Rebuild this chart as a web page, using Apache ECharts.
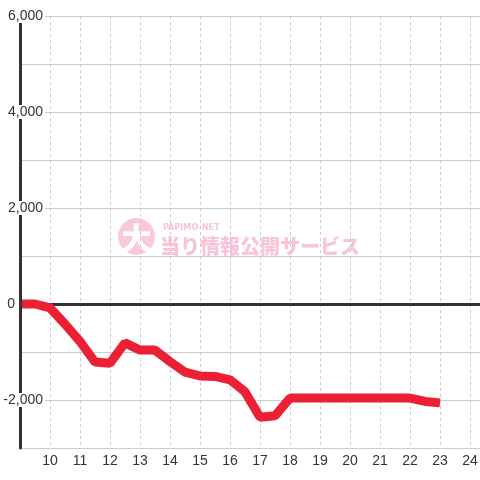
<!DOCTYPE html>
<html>
<head>
<meta charset="utf-8">
<script src="https://cdn.jsdelivr.net/npm/echarts@6/dist/echarts.min.js"></script>
<style>html,body{margin:0;padding:0;background:#fff;}#c{width:480px;height:480px;}</style>
</head>
<body>
<div id="c"></div>
<script>
// Data
const hours  = [9, 9.5, 10, 10.5, 11, 11.5, 12, 12.5, 13, 13.5, 14, 14.5, 15, 15.5, 16, 16.5, 17, 17.5, 18, 18.5, 19, 19.5, 20, 20.5, 21, 21.5, 22, 22.5, 23];
const values = [0, 0, -80, -420, -780, -1210, -1235, -810, -960, -960, -1200, -1420, -1500, -1510, -1580, -1830, -2360, -2330, -1960, -1960, -1960, -1960, -1960, -1960, -1960, -1960, -1960, -2030, -2060];
const xTickLabels = [10, 11, 12, 13, 14, 15, 16, 17, 18, 19, 20, 21, 22, 23, 24];
const yTickLabels = [6000, 4000, 2000, 0, -2000];

const seriesData = hours.map((h, i) => [h, values[i]]);
const font = '"Liberation Sans", Arial, sans-serif';

const chart = echarts.init(document.getElementById('c'), null, {renderer: 'canvas'});
chart.setOption({
  animation: false,
  backgroundColor: '#ffffff',
  grid: {left: 20, right: 0, top: 16, bottom: 32, containLabel: false, outerBoundsMode: 'none'},
  xAxis: {
    type: 'value', min: 9, max: 24.3333, interval: 1,
    axisLine: {show: false, onZero: false},
    axisTick: {show: false},
    axisLabel: {
      color: '#333', fontSize: 14, fontFamily: font, margin: 6,
      formatter: v => xTickLabels.includes(v) ? String(v) : ''
    },
    splitLine: {show: true, showMaxLine: false, lineStyle: {color: '#cccccc', width: 1, type: [3, 3]}}
  },
  yAxis: [
    {
      type: 'value', min: -3000, max: 6000, interval: 1000, z: 0,
      axisLine: {show: false, onZero: false},
      axisTick: {show: false},
      axisLabel: {show: false},
      splitLine: {show: true, lineStyle: {color: '#cccccc', width: 1}}
    },
    {
      type: 'value', min: -3000, max: 6000, interval: 1000, z: 5, position: 'left',
      axisLine: {show: true, onZero: false, lineStyle: {color: '#333', width: 3}},
      axisTick: {show: false},
      splitLine: {show: false},
      axisLabel: {
        margin: -25, color: '#333', fontSize: 14, fontFamily: font,
        formatter: v => {
          if (!yTickLabels.includes(v)) return '';
          if (v === 0) return '{z|0}';
          return '{a|' + v.toLocaleString('en-US') + '}';
        },
        rich: {
          a: {color: '#333', fontSize: 14, fontFamily: font, backgroundColor: '#ffffff', padding: [0, 2, 0, 2]},
          z: {color: '#333', fontSize: 14, fontFamily: font, padding: [0, 30, 0, 0]}
        }
      }
    }
  ],
  series: [{
    type: 'line',
    yAxisIndex: 0,
    z: 3,
    data: seriesData,
    symbol: 'none',
    lineStyle: {color: '#EC2035', width: 9},
    markLine: {
      silent: true, z: 1, symbol: 'none', animation: false,
      label: {show: false},
      lineStyle: {color: '#333', width: 3, type: 'solid'},
      data: [{yAxis: 0}]
    }
  }],
  graphic: [
    {type: 'circle', z: -1, shape: {cx: 136.5, cy: 236.5, r: 18.5}, style: {fill: '#FAC8DD'}},
    {type: 'text', z: -1, x: 136.5, y: 238, style: {text: '大', fill: '#ffffff', font: '900 30px "Noto Sans CJK JP"', align: 'center', verticalAlign: 'middle'}},
    {type: 'text', z: -1, x: 163, y: 228, style: {text: 'PAPIMO-NET', fill: '#F9C3DA', font: 'bold 9px "DejaVu Sans Condensed"', verticalAlign: 'middle'}},
    {type: 'text', z: -1, x: 160, y: 246.5, style: {text: '当り情報公開サービス', fill: '#F9C3DA', font: '900 20px "Noto Sans CJK JP"', verticalAlign: 'middle'}}
  ]
});
</script>
</body>
</html>
